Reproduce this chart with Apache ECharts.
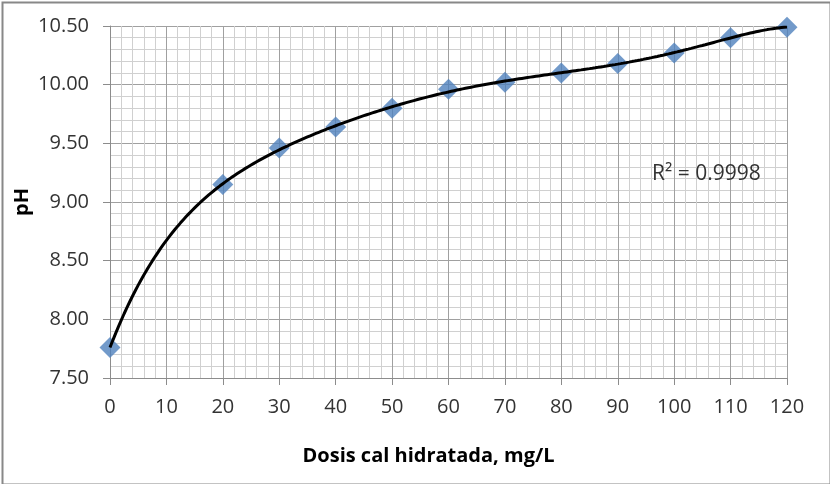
<!DOCTYPE html>
<html><head><meta charset="utf-8">
<script src="https://cdn.jsdelivr.net/npm/echarts@6/dist/echarts.min.js"></script>
<style>html,body{margin:0;padding:0;background:#fff}#c{width:830px;height:484px}</style>
</head><body><div id="c"></div>
<script>
const dosis = [0, 20, 30, 40, 50, 60, 70, 80, 90, 100, 110, 120];
const ph = [7.76, 9.15, 9.46, 9.64, 9.80, 9.96, 10.02, 10.10, 10.18, 10.27, 10.40, 10.49];
const xTicks = [0, 10, 20, 30, 40, 50, 60, 70, 80, 90, 100, 110, 120];
const yTicks = [7.5, 8.0, 8.5, 9.0, 9.5, 10.0, 10.5];
const r2Label = 'R² = 0.9998';
const xTitle = 'Dosis cal hidratada, mg/L';
const yTitle = 'pH';

// polynomial trendline (order 6) fitted to the data by least squares
function polyFit(xs, ys, deg, scale) {
  const n = deg + 1;
  const A = Array.from({length: n}, () => new Array(n + 1).fill(0));
  for (let k = 0; k < xs.length; k++) {
    const t = xs[k] / scale;
    const p = [];
    for (let i = 0; i < n; i++) p.push(Math.pow(t, i));
    for (let i = 0; i < n; i++) {
      for (let j = 0; j < n; j++) A[i][j] += p[i] * p[j];
      A[i][n] += p[i] * ys[k];
    }
  }
  for (let i = 0; i < n; i++) {
    let m = i;
    for (let r = i + 1; r < n; r++) if (Math.abs(A[r][i]) > Math.abs(A[m][i])) m = r;
    [A[i], A[m]] = [A[m], A[i]];
    for (let r = 0; r < n; r++) {
      if (r === i) continue;
      const f = A[r][i] / A[i][i];
      for (let c = i; c <= n; c++) A[r][c] -= f * A[i][c];
    }
  }
  return A.map((row, i) => row[n] / row[i]);
}
const coef = polyFit(dosis, ph, 6, 120);
const trend = [];
for (let x = 0; x <= 120; x += 0.5) {
  const t = x / 120;
  let y = 0;
  for (let i = 0; i < coef.length; i++) y += coef[i] * Math.pow(t, i);
  trend.push([x, y]);
}

const chart = echarts.init(document.getElementById('c'));
const font = 'Open Sans';
chart.setOption({
  animation: false,
  grid: {left: 110, right: 43, top: 26, bottom: 106},
  xAxis: {
    type: 'value', min: xTicks[0], max: xTicks[xTicks.length - 1], interval: 10,
    name: xTitle, nameLocation: 'middle', nameGap: 68, nameMoveOverlap: false,
    nameTextStyle: {fontFamily: font, fontSize: 20, fontWeight: 'bold', color: '#000', padding: [0, 40, 0, 0]},
    axisLine: {show: true, lineStyle: {color: '#8c8c8c', width: 1}},
    axisTick: {show: true, length: 7, lineStyle: {color: '#8c8c8c'}},
    axisLabel: {fontFamily: font, fontSize: 20, color: '#333', margin: 19},
    splitLine: {show: true, lineStyle: {color: '#a0a0a0', width: 1}},
    minorTick: {show: false, splitNumber: 5},
    minorSplitLine: {show: true, lineStyle: {color: '#d0d0d0', width: 1}}
  },
  yAxis: {
    type: 'value', min: yTicks[0], max: yTicks[yTicks.length - 1], interval: 0.5,
    name: yTitle, nameLocation: 'middle', nameGap: 78, nameRotate: 90, nameMoveOverlap: false,
    nameTextStyle: {fontFamily: font, fontSize: 20, fontWeight: 'bold', color: '#000'},
    axisLine: {show: true, lineStyle: {color: '#8c8c8c', width: 1}},
    axisTick: {show: true, length: 7, lineStyle: {color: '#8c8c8c'}},
    axisLabel: {fontFamily: font, fontSize: 20, color: '#333', margin: 21,
      formatter: v => v.toFixed(2)},
    splitLine: {show: true, lineStyle: {color: '#a0a0a0', width: 1}},
    minorTick: {show: false, splitNumber: 5},
    minorSplitLine: {show: true, lineStyle: {color: '#d0d0d0', width: 1}}
  },
  series: [
    {
      type: 'scatter', data: dosis.map((x, i) => [x, ph[i]]),
      symbol: 'diamond', symbolSize: [21, 21],
      itemStyle: {color: '#4f81bd'}, z: 2
    },
    {
      type: 'line', data: trend, showSymbol: false, symbol: 'none',
      lineStyle: {color: '#000', width: 3}, z: 3
    }
  ],
  graphic: [
    {type: 'rect', left: 0, top: 0, z: 100, silent: true,
      shape: {x: 1, y: 1, width: 828, height: 482},
      style: {fill: 'none', stroke: '#888888', lineWidth: 2}},
    {type: 'text', left: 652, top: 164, z: 100,
      style: {text: r2Label, fontFamily: font, fontSize: 21, fill: '#333'}}
  ]
});
</script></body></html>
